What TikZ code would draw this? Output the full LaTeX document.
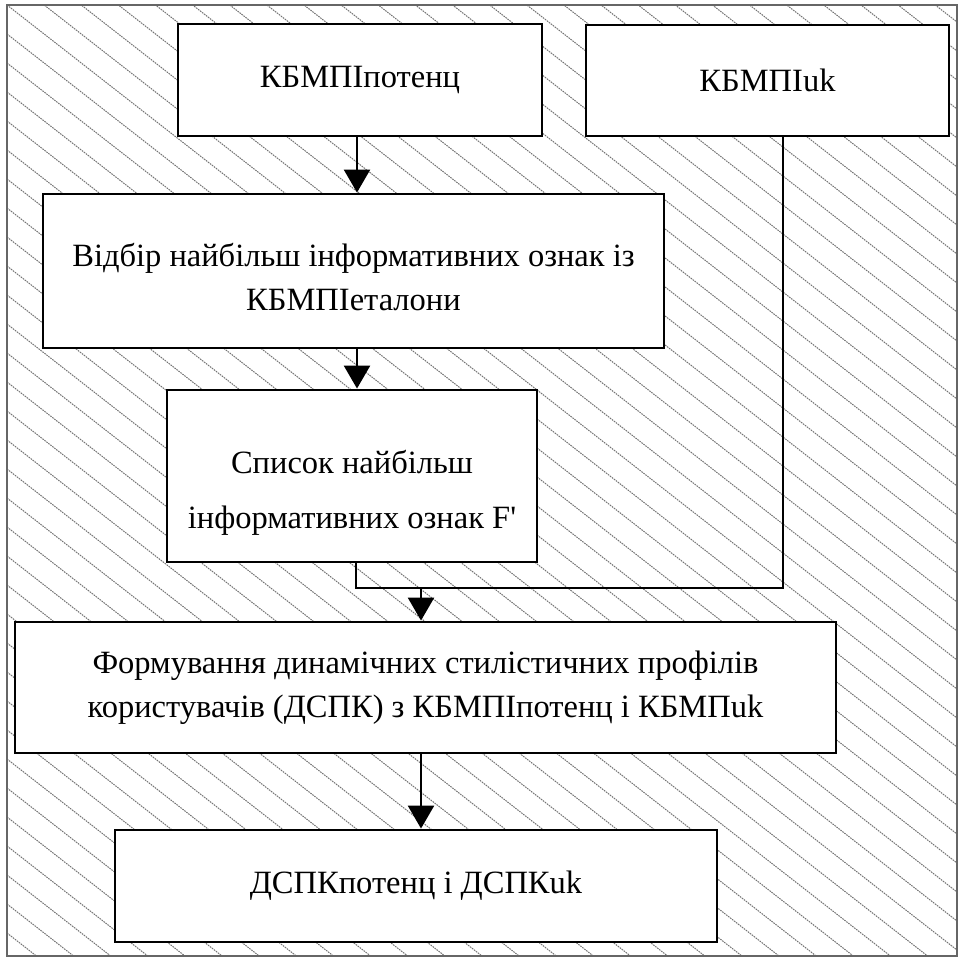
\documentclass[tikz,border=0pt]{standalone}
\usepackage{fontspec}
\setmainfont{Liberation Serif}
\usetikzlibrary{arrows.meta}
\begin{document}
\begin{tikzpicture}[x=1pt,y=-1pt,
  box/.style={draw=black,line width=2.9pt,fill=white,align=center,inner sep=0pt,
    font=\fontsize{32.5}{44}\selectfont},
  conn/.style={line width=2.6pt,draw=black},
  arr/.style={conn,-{Triangle[width=26pt,length=23pt]}},
  hatch/.style={draw=black!55,line width=1pt,dash pattern=on 1.6pt off 0.9pt}]
\useasboundingbox (0,0) rectangle (960,959);
% diagonal hatching of the background
\begin{scope}
  \clip (7,5) rectangle (957,956);
  \foreach \k in {-27,...,34}
    \draw[hatch] (7,5+29*\k) -- (957,5+29*\k+742);
\end{scope}
\draw[black!60,line width=2pt] (7,5) rectangle (957,956);

% boxes
\node[box,minimum width=364pt,minimum height=112pt] (kp) at (360,80) {КБМПІпотенц};
\node[box,minimum width=363pt,minimum height=111pt] (ku) at (767.5,80.5) {КБМПІuk};
\node[box,minimum width=621pt,minimum height=154pt] (sel) at (353.5,271)
  {\rule{0pt}{35pt}Відбір найбільш інформативних ознак із\\КБМПІеталони};
\node[box,minimum width=370pt,minimum height=172pt,font=\fontsize{32.5}{55}\selectfont] (lst) at (352,476)
  {\rule{0pt}{56pt}Список найбільш\\інформативних ознак F\textquotesingle};
\node[box,minimum width=821pt,minimum height=131pt] (form) at (425.5,687.5)
  {Формування динамічних стилістичних профілів\\користувачів (ДСПК) з КБМПІпотенц і КБМПuk};
\node[box,minimum width=602pt,minimum height=112pt] (out) at (416,886) {ДСПКпотенц і ДСПКuk};

% connectors
\coordinate (join) at (421,588);
\draw[arr] ([xshift=-3pt]kp.south) -- ([xshift=-3pt]kp.south |- sel.north);
\draw[arr] ([xshift=3.5pt]sel.south) -- ([xshift=3.5pt]sel.south |- lst.north);
\draw[conn] ([xshift=4pt]lst.south) |- (join) -| ([xshift=15.5pt]ku.south);
\draw[arr] (join) -- (join |- form.north);
\draw[arr] ([xshift=-4.5pt]form.south) -- ([xshift=-4.5pt]form.south |- out.north);
\end{tikzpicture}
\end{document}
